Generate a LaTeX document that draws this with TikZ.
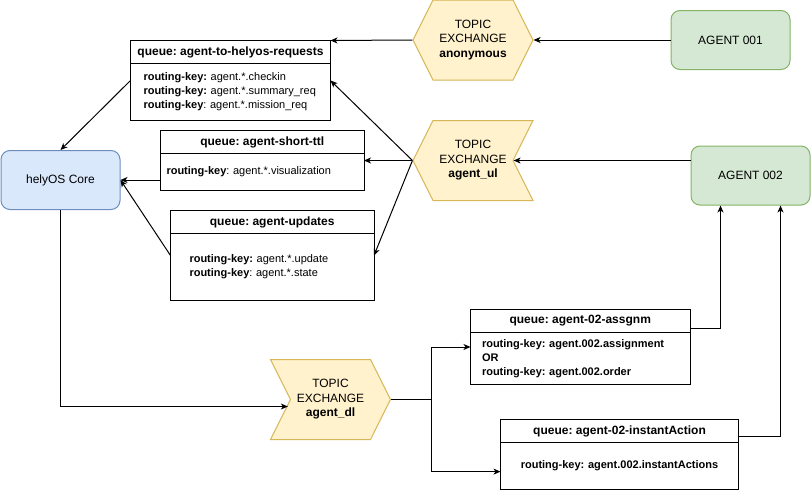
\documentclass[tikz,border=0pt]{standalone}
\usepackage{fontspec}
\setmainfont{Liberation Sans}
\usetikzlibrary{calc,positioning,fit,shapes.symbols,arrows.meta}
\definecolor{corefill}{HTML}{DAE8FC}
\definecolor{coreline}{HTML}{6C8EBF}
\definecolor{exfill}{HTML}{FFF2CC}
\definecolor{exline}{HTML}{D6B656}
\definecolor{agfill}{HTML}{D5E8D4}
\definecolor{agline}{HTML}{82B366}
\frenchspacing
\tikzset{
>={Stealth[length=7pt,width=6pt,inset=2pt]},
  qhead/.style={
    rectangle,
    draw=black, line width=1pt,
    outer sep=0pt, inner sep=0pt,
    anchor=north west,
    minimum width=#1,
    minimum height=23pt,
    font=\bfseries\fontsize{12}{14}\selectfont},
  qbody/.style={
    rectangle,
    draw=black, line width=1pt,
    outer sep=0pt, inner ysep=0pt,
    align=left,
    font=\fontsize{11}{14}\selectfont},
  exchange/.style={
    signal,
    signal pointer angle=127,
    draw=exline, fill=exfill, line width=1pt,
    minimum width=120pt,
    minimum height=80pt,
    inner sep=0pt,
    align=center,
    font=\fontsize{12}{14.5}\selectfont},
  agent/.style={
    rectangle,
    rounded corners=9pt,
    draw=agline, fill=agfill, line width=1pt,
    minimum width=119pt,
    minimum height=59pt,
    font=\fontsize{12}{14}\selectfont},
  core/.style={agent, draw=coreline, fill=corefill},
  whole/.style={fit=#1, inner sep=0pt, outer sep=0pt},
  line/.style={draw, line width=1pt, ->},
}
\begin{document}
\frenchspacing
\begin{tikzpicture}[x=1pt, y=-1pt]
\useasboundingbox (0,0) rectangle (811,490);

    % hosts and exchanges
    \node [core](helyos) at (60.5,180) {helyOS Core};
    \node [agent](agent1) at (730.5,40) {AGENT 001};
    \node [agent](agent2) at (750.5,175.5) {AGENT 002};
    \node [exchange, signal to=west and east](anon) at (473,40)
                                  {TOPIC\\EXCHANGE\\\textbf{anonymous}};
    \node [exchange, signal to=west, signal from=east](ul) at (473,160.5)
                                  {TOPIC\\EXCHANGE\\\textbf{agent\_ul}};
    \node [exchange, signal to=east, signal from=west](dl) at (330.5,399.5)
                                  {TOPIC\\EXCHANGE\\\textbf{agent\_dl}};

    % queues
    \node [qhead=200pt](reqhead) at (130.5,40.5) {queue: agent-to-helyos-requests};
    \node [qbody, below=0pt of reqhead, minimum height=57pt, text width=174pt, inner xsep=13pt](reqbody)
        {\textbf{routing-key:} agent.*.checkin\\
         \textbf{routing-key:} agent.*.summary\_req\\
         \textbf{routing-key}: agent.*.mission\_req};
    \node [whole={(reqhead)(reqbody)}](req) {};

    \node [qhead=203.5pt](ttlhead) at (160.5,130.5) {queue: agent-short-ttl};
    \node [qbody, below=0pt of ttlhead, minimum height=37pt, text width=191.5pt, inner xsep=6pt](ttlbody)
        {\textbf{routing-key}: agent.*.visualization};
    \node [whole={(ttlhead)(ttlbody)}](ttl) {};

    \node [qhead=203.5pt](updhead) at (170.5,210.5) {queue: agent-updates};
    \node [qbody, below=0pt of updhead, minimum height=67pt, text width=165.5pt, inner xsep=19pt](updbody)
        {\textbf{routing-key:} agent.*.update\\
         \textbf{routing-key}: agent.*.state\\[6pt]};
    \node [whole={(updhead)(updbody)}](upd) {};

    \node [qhead=219.5pt](asghead) at (470.5,309.5) {queue: agent-02-assgnm};
    \node [qbody, below=0pt of asghead, minimum height=52pt, text width=196.5pt, inner xsep=11.5pt,
           font=\bfseries\fontsize{11}{14}\selectfont](asgbody)
        {routing-key: agent.002.assignment\\
         OR\\
         routing-key: agent.002.order};
    \node [whole={(asghead)(asgbody)}](asg) {};

    \node [qhead=238pt](insthead) at (500.5,419.5) {queue: agent-02-instantAction};
    \node [qbody, below=0pt of insthead, minimum height=46.5pt, text width=228pt, inner xsep=5pt,
           align=center, font=\bfseries\fontsize{11}{14}\selectfont](instbody)
        {routing-key: agent.002.instantActions};
    \node [whole={(insthead)(instbody)}](inst) {};

    % agent 001 uplink
    \draw[line] (agent1.west) -- (anon.east);
    \draw[line] (anon.west) -- (req.north east);
    % agent 002 uplink
    \draw[line] (agent2.west |- ul.east) -- (ul.east);
    \draw[line] (ul.west) -- (req.east);
    \draw[line] (ul.west) -- (ttl.east);
    \draw[line] (ul.west) -- (upd.east);
    % queues to helyOS
    \draw[line] (req.west) -- (helyos.north);
    \draw[line] (helyos.east -| ttl.west) -- (helyos.east);
    \draw[line] (upd.west) -- (helyos.east);
    % downlink
    \draw[line] (helyos.south) |- ([xshift=-2pt,yshift=-7pt]dl.west);
    \draw[line, -] (dl.east) -- ++(40,0) coordinate (fork);
    \draw[line] (fork) |- (asg.west);
    \draw[line] (fork) |- ($(inst.north west)!.75!(inst.south west)$);
    \draw[line] ($(asg.north east)!.25!(asg.south east)$) -| ($(agent2.south west)!.25!(agent2.south east)$);
    \draw[line] ($(inst.north east)!.25!(inst.south east)$) -| ($(agent2.south west)!.75!(agent2.south east)$);

\end{tikzpicture}
\end{document}
